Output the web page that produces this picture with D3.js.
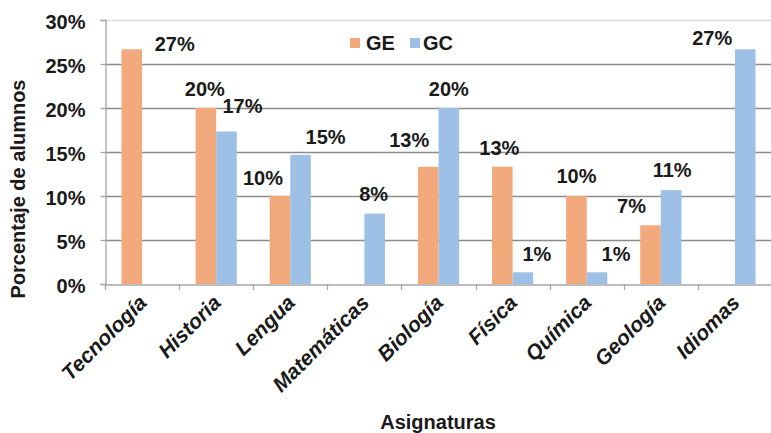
<!DOCTYPE html>
<html>
<head>
<meta charset="utf-8">
<script src="https://cdn.jsdelivr.net/npm/d3@7"></script>
<style>
  html, body { margin: 0; padding: 0; background: #fff; }
  svg { display: block; font-family: "Liberation Sans", Arial, sans-serif; }
</style>
</head>
<body>
<svg id="chart" width="771" height="433"></svg>
<script>
// Subjects (x categories)
const subjects = ["Tecnología", "Historia", "Lengua", "Matemáticas", "Biología", "Física", "Química", "Geología", "Idiomas"];
// Series names
const seriesNames = ["GE", "GC"];
// Percentage of students per subject, by group
const valuesGE = [26.67, 20.00, 10.00, 0, 13.33, 13.33, 10.00, 6.67, 0];
const valuesGC = [0, 17.33, 14.67, 8.00, 20.00, 1.33, 1.33, 10.67, 26.67];
// Y axis ticks (%)
const yTicks = [0, 5, 10, 15, 20, 25, 30];

const colors = { GE: "#F2A97C", GC: "#9DC1E6" };

// Hand-placed label offsets [dx, dy] from each bar's top centre
const labelNudge = {
  GE: [[43, 2], [-1, -12], [-17, -11], [0, 0], [-19, -20], [-3, -12], [0, -13], [-19, -12], [0, 0]],
  GC: [[0, 0], [16, -18], [25, -11], [-1, -13], [0, -12], [14, -11], [19, -11], [1, -13], [-33, -4]]
};

const svg = d3.select("#chart");
const margin = { left: 105, right: 772, top: 20, bottom: 284 };

const x = d3.scaleBand().domain(subjects).range([margin.left, margin.right]).paddingInner(0).paddingOuter(0);
const xs = d3.scaleBand().domain(seriesNames).range([0, x.bandwidth()]).paddingInner(0).paddingOuter(0.8);
const y = d3.scaleLinear().domain([0, 30]).range([margin.bottom, margin.top]);

// Gridlines
svg.append("g").selectAll("line").data(yTicks.filter(d => d > 0)).join("line")
  .attr("x1", margin.left).attr("x2", margin.right)
  .attr("y1", d => Math.round(y(d)) + 0.5).attr("y2", d => Math.round(y(d)) + 0.5)
  .attr("stroke", d => d === 30 ? "#dcdcdc" : "#8c8c8c")
  .attr("stroke-width", 1.3);

// Y axis
const yAxis = svg.append("g")
  .attr("transform", `translate(${margin.left + 0.5},0)`)
  .call(d3.axisLeft(y).tickValues(yTicks).tickFormat(d => d + "%").tickSize(5).tickPadding(15));
yAxis.select(".domain").attr("stroke", "#a6a6a6").attr("stroke-width", 1.3);
yAxis.selectAll(".tick line").attr("stroke", "#a6a6a6").attr("stroke-width", 1.3);
yAxis.selectAll(".tick text")
  .attr("font-size", 20).attr("font-weight", "bold").attr("fill", "#1a1a1a")
  .attr("dy", "0.4em");

// X axis
const xAxis = svg.append("g")
  .attr("transform", `translate(0,${margin.bottom + 0.5})`)
  .call(d3.axisBottom(x).tickSize(0).tickFormat(""));
xAxis.select(".domain").attr("stroke", "#a6a6a6").attr("stroke-width", 1.3);
// Tick marks on category boundaries
svg.append("g").selectAll("line").data(subjects).join("line")
  .attr("x1", d => Math.round(x(d)) + 0.5).attr("x2", d => Math.round(x(d)) + 0.5)
  .attr("y1", margin.bottom).attr("y2", margin.bottom + 6)
  .attr("stroke", "#a6a6a6").attr("stroke-width", 1.3);

// Category labels, rotated
svg.append("g").selectAll("text").data(subjects).join("text")
  .attr("transform", d => `translate(${x(d) + x.bandwidth() / 2 + 6},${margin.bottom + 20}) rotate(-45)`)
  .attr("text-anchor", "end")
  .attr("font-size", 21).attr("font-weight", "bold").attr("font-style", "italic")
  .attr("fill", "#1a1a1a")
  .text(d => d);

// Bars
const series = [
  { key: "GE", values: valuesGE },
  { key: "GC", values: valuesGC }
];
const barData = series.flatMap(s => s.values.map((v, i) => ({ key: s.key, subject: subjects[i], value: v, i })));

svg.append("g").selectAll("rect").data(barData.filter(d => d.value > 0)).join("rect")
  .attr("x", d => x(d.subject) + xs(d.key))
  .attr("width", xs.bandwidth())
  .attr("y", d => y(d.value))
  .attr("height", d => y(0) - y(d.value))
  .attr("fill", d => colors[d.key]);

// Value labels
const fmt = d => Math.round(d) + "%";
svg.append("g").selectAll("text").data(barData.filter(d => d.value > 0)).join("text")
  .attr("x", d => x(d.subject) + xs(d.key) + xs.bandwidth() / 2 + labelNudge[d.key][d.i][0])
  .attr("y", d => y(d.value) + labelNudge[d.key][d.i][1])
  .attr("text-anchor", "middle")
  .attr("font-size", 20).attr("font-weight", "bold").attr("fill", "#1a1a1a")
  .text(d => fmt(d.value));

// Legend
const legend = svg.append("g");
const legendPos = [{ key: "GE", sx: 350, tx: 366 }, { key: "GC", sx: 410, tx: 423 }];
legend.selectAll("rect").data(legendPos).join("rect")
  .attr("x", d => d.sx).attr("y", 38).attr("width", 10).attr("height", 10)
  .attr("fill", d => colors[d.key]);
legend.selectAll("text").data(legendPos).join("text")
  .attr("x", d => d.tx).attr("y", 50)
  .attr("font-size", 20).attr("font-weight", "bold").attr("fill", "#1a1a1a")
  .text(d => d.key);

// Axis titles
svg.append("text")
  .attr("transform", `translate(25,189) rotate(-90)`)
  .attr("text-anchor", "middle")
  .attr("font-size", 20).attr("font-weight", "bold").attr("fill", "#1a1a1a")
  .text("Porcentaje de alumnos");

svg.append("text")
  .attr("x", 438).attr("y", 429)
  .attr("text-anchor", "middle")
  .attr("font-size", 20).attr("font-weight", "bold").attr("fill", "#1a1a1a")
  .text("Asignaturas");
</script>
</body>
</html>
